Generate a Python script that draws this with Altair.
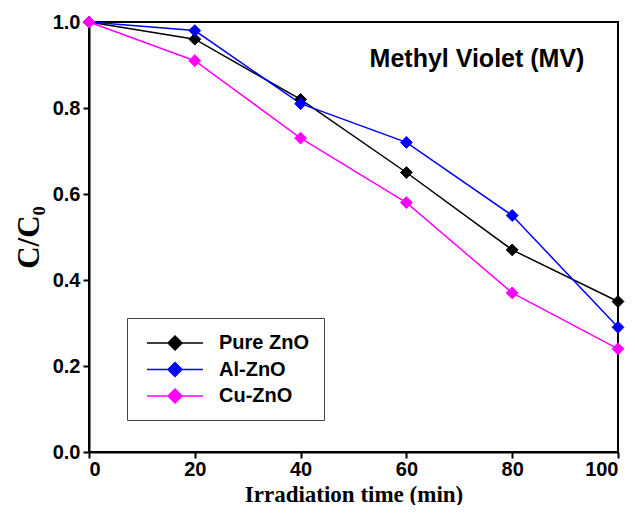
import altair as alt
import pandas as pd

times = [0, 20, 40, 60, 80, 100]
pure_zno = [1.00, 0.96, 0.82, 0.65, 0.47, 0.35]
al_zno = [1.00, 0.98, 0.81, 0.72, 0.55, 0.29]
cu_zno = [1.00, 0.91, 0.73, 0.58, 0.37, 0.24]
series_names = ["Pure ZnO", "Al-ZnO", "Cu-ZnO"]
series_colors = ["#000000", "#0000FF", "#FF00FF"]

rows = []
for name, vals in zip(series_names, [pure_zno, al_zno, cu_zno]):
    for t, v in zip(times, vals):
        rows.append({"time": t, "ratio": v, "sample": name})
df = pd.DataFrame(rows)

color_scale = alt.Scale(domain=series_names, range=series_colors)
x_enc = alt.X("time:Q", scale=alt.Scale(domain=[0, 100], nice=False),
              axis=alt.Axis(values=[0, 20, 40, 60, 80, 100], title="Irradiation time (min)"))
y_enc = alt.Y("ratio:Q", scale=alt.Scale(domain=[0, 1.0], nice=False),
              axis=alt.Axis(values=[0, 0.2, 0.4, 0.6, 0.8, 1.0], format=".1f", title="C/C₀"))

# legend symbol: a line with a diamond in the middle
legend_path = "M-2.8,0L2.8,0M0,-0.7L0.7,0L0,0.7L-0.7,0Z"
leg = alt.Legend(title=None, orient="none", legendX=38, legendY=296,
                 symbolType=legend_path, symbolSize=400, symbolStrokeWidth=1.5,
                 symbolOffset=23, labelOffset=33,
                 labelFont="Liberation Sans", labelFontSize=20, labelFontWeight="bold",
                 labelColor="#000000", strokeColor="#444444", fillColor="#FFFFFF",
                 padding=14, rowPadding=5.5)

lines = alt.Chart(df).mark_line(strokeWidth=1.5).encode(
    x=x_enc, y=y_enc,
    stroke=alt.Stroke("sample:N", scale=color_scale, legend=leg),
    detail="sample:N",
)
points = alt.Chart(df).mark_point(shape="diamond", size=140, filled=True, opacity=1, strokeWidth=1).encode(
    x=x_enc, y=y_enc,
    fill=alt.Fill("sample:N", scale=color_scale, legend=leg),
    stroke=alt.Stroke("sample:N", scale=color_scale, legend=leg),
)
title_text = alt.Chart(pd.DataFrame({"t": ["Methyl Violet (MV)"]})).mark_text(
    font="Liberation Sans", fontSize=25, fontWeight="bold", align="center", baseline="middle", color="#000000"
).encode(text="t:N", x=alt.value(388), y=alt.value(37))

chart = alt.layer(lines, points, title_text).properties(
    width=529, height=430,
    padding={"left": 81, "top": 14, "right": 8, "bottom": 53},
    autosize=alt.AutoSizeParams(type="none"),
).configure_view(
    stroke="#000000", strokeWidth=2
).configure_axis(
    domainColor="#000000", domainWidth=2, tickColor="#000000", tickWidth=2, tickSize=6,
    labelFont="Liberation Sans", labelFontSize=20, labelFontWeight="bold", labelColor="#000000",
    titleFont="Liberation Serif", titleFontWeight="bold", titleColor="#000000", grid=False,
).configure_axisX(
    labelPadding=1, titleFontSize=23, titleBaseline="alphabetic", titleY=49,
).configure_axisY(
    labelPadding=3, titleFontSize=31, titlePadding=7,
)

chart.save("out.html", embed_options={"renderer": "svg", "actions": False})
